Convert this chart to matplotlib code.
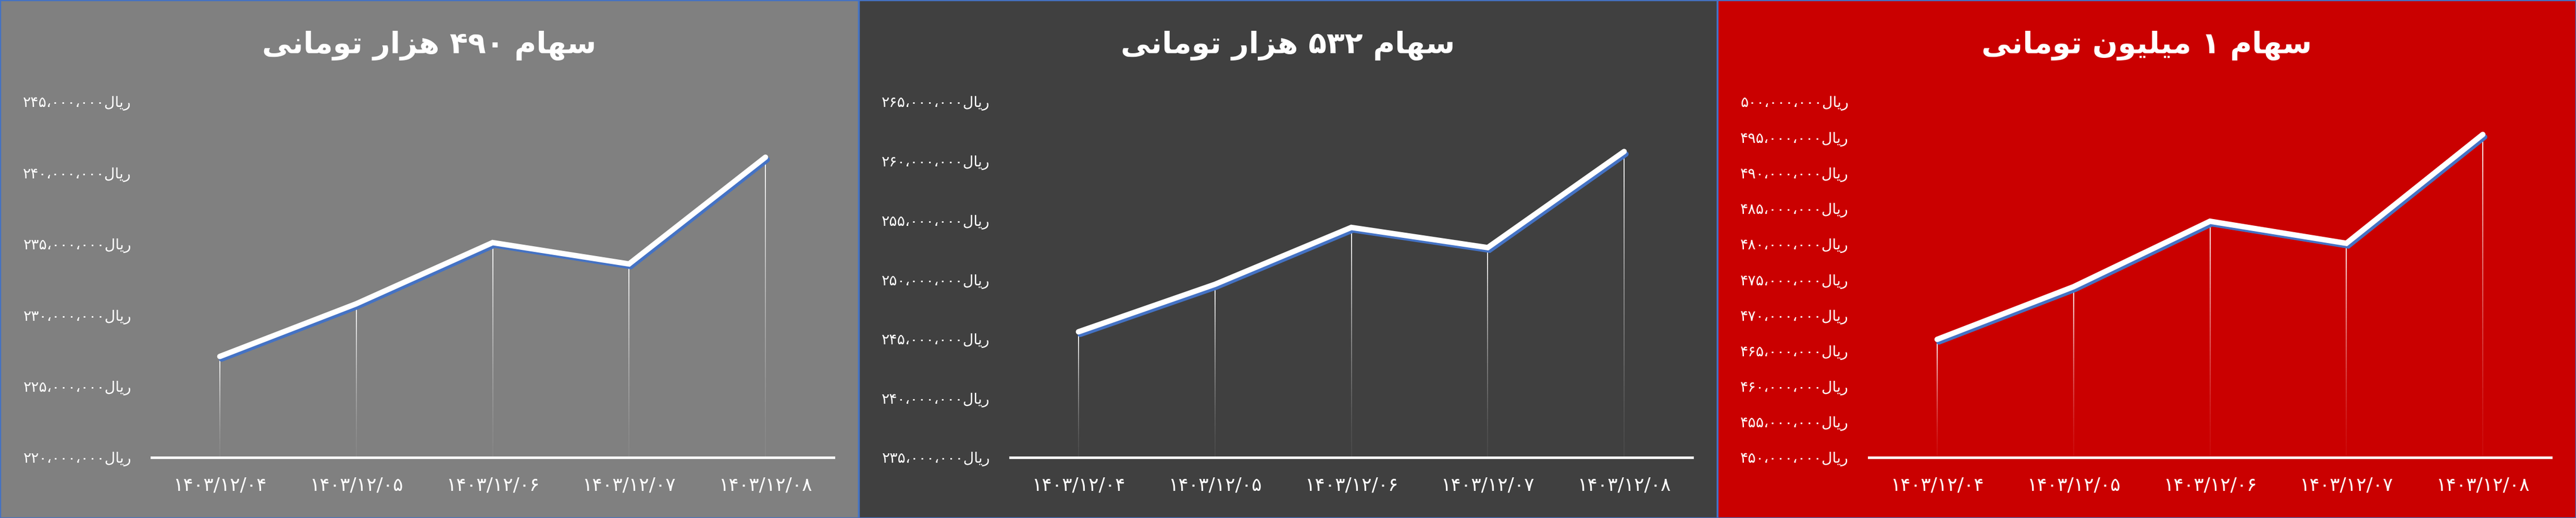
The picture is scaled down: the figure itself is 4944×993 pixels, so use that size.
import numpy as np
import matplotlib
matplotlib.use("Agg")
import matplotlib.pyplot as plt
from matplotlib import patheffects
from matplotlib.patches import Rectangle
from matplotlib.collections import LineCollection
from matplotlib.ticker import MultipleLocator, FuncFormatter

# ---- data ----
dates = ['۱۴۰۳/۱۲/۰۴', '۱۴۰۳/۱۲/۰۵', '۱۴۰۳/۱۲/۰۶', '۱۴۰۳/۱۲/۰۷', '۱۴۰۳/۱۲/۰۸']

titles = [['سهام', '۴۹۰', 'هزار', 'تومانی'],
          ['سهام', '۵۳۲', 'هزار', 'تومانی'],
          ['سهام', '۱', 'میلیون', 'تومانی']]

price_490 = [227.1e6, 230.8e6, 235.1e6, 233.6e6, 241.1e6]
price_532 = [245.6e6, 249.6e6, 254.4e6, 252.7e6, 260.8e6]
price_1m = [466.6e6, 474.0e6, 483.2e6, 480.1e6, 495.4e6]

ylims = [(220e6, 245e6), (235e6, 265e6), (450e6, 500e6)]
panel_colors = ['#808080', '#404040', '#CA0000']
border_color = '#4472C4'

# ---- poor man's persian shaping (no arabic_reshaper offline) ----
FORMS = {  # isolated, final, initial, medial
    'ا': ('\uFE8D', '\uFE8E', None, None),
    'ت': ('\uFE95', '\uFE96', '\uFE97', '\uFE98'),
    'ر': ('\uFEAD', '\uFEAE', None, None),
    'ز': ('\uFEAF', '\uFEB0', None, None),
    'س': ('\uFEB1', '\uFEB2', '\uFEB3', '\uFEB4'),
    'ل': ('\uFEDD', '\uFEDE', '\uFEDF', '\uFEE0'),
    'م': ('\uFEE1', '\uFEE2', '\uFEE3', '\uFEE4'),
    'ن': ('\uFEE5', '\uFEE6', '\uFEE7', '\uFEE8'),
    'ه': ('\uFEE9', '\uFEEA', '\uFEEB', '\uFEEC'),
    'و': ('\uFEED', '\uFEEE', None, None),
    'ی': ('\uFEEF', '\uFEF0', '\uFEF3', '\uFEF4'),
}


def shape(word):
    if not any(ch in FORMS for ch in word):
        return word  # digits stay left-to-right
    out = []
    for i, ch in enumerate(word):
        prev = i > 0 and FORMS[word[i - 1]][2] is not None
        nxt = i < len(word) - 1 and FORMS[ch][2] is not None
        if prev and nxt:
            out.append(FORMS[ch][3])
        elif prev:
            out.append(FORMS[ch][1])
        elif nxt:
            out.append(FORMS[ch][2])
        else:
            out.append(FORMS[ch][0])
    return ''.join(reversed(out))


def rtl(words, sep=' '):
    return sep.join(shape(w) for w in reversed(words))


FA_DIGITS = str.maketrans('0123456789,', '۰۱۲۳۴۵۶۷۸۹،')
RIAL = shape('ریال')


def rial_fmt(v, pos):
    return format(int(round(v)), ',').translate(FA_DIGITS) + RIAL


# ---- figure ----
W, H = 4944, 993
fig = plt.figure(figsize=(W / 100, H / 100), dpi=100)
plt.rcParams['font.family'] = ['DejaVu Sans']

panel_w = W / 3
series = [price_490, price_532, price_1m]
x = np.arange(len(dates))

for k in range(3):
    p0 = k * panel_w
    fig.patches.append(Rectangle((p0 / W, 0), panel_w / W, 1, transform=fig.transFigure,
                                 facecolor=panel_colors[k], edgecolor=border_color,
                                 linewidth=2.5, zorder=-5))

    ax = fig.add_axes([(p0 + 291) / W, 1 - 877 / H, 1309 / W, (877 - 195) / H])
    ax.set_zorder(5)
    ax.set_facecolor('none')
    ax.set_xlim(-0.5, len(dates) - 0.5)
    ax.set_ylim(*ylims[k])
    vals = series[k]

    # drop lines that fade out toward the axis
    segs, cols = [], []
    nseg = 60
    for xi, v in zip(x, vals):
        ys = np.linspace(ylims[k][0], v, nseg + 1)
        for j in range(nseg):
            segs.append([(xi, ys[j]), (xi, ys[j + 1])])
            cols.append((1, 1, 1, 0.05 + 0.95 * (j / nseg) ** 1.5))
    ax.add_collection(LineCollection(segs, colors=cols, linewidths=1.4, zorder=2))

    ax.plot(x, vals, color='white', linewidth=7.5, solid_capstyle='round',
            solid_joinstyle='miter', zorder=3,
            path_effects=[patheffects.SimpleLineShadow(offset=(2.5, -3.5), shadow_color=border_color,
                                                       alpha=1.0, rho=1.0),
                          patheffects.Normal()])

    for s in ['left', 'right', 'top']:
        ax.spines[s].set_visible(False)
    ax.spines['bottom'].set_color('white')
    ax.spines['bottom'].set_linewidth(3.5)
    ax.spines['bottom'].set_zorder(4)

    ax.yaxis.set_major_locator(MultipleLocator(5e6))
    ax.yaxis.set_major_formatter(FuncFormatter(rial_fmt))
    ax.set_xticks(x)
    ax.set_xticklabels(dates)
    ax.tick_params(axis='y', length=0, pad=28, labelsize=20.5, labelcolor='white')
    ax.tick_params(axis='x', length=0, pad=26, labelsize=26, labelcolor='white')

    fig.text((p0 + panel_w / 2) / W, 1 - 88 / H, rtl(titles[k]), ha='center', va='center',
             color='white', fontsize=41, fontweight='bold', zorder=6)

fig.savefig('out.png', dpi=100)
